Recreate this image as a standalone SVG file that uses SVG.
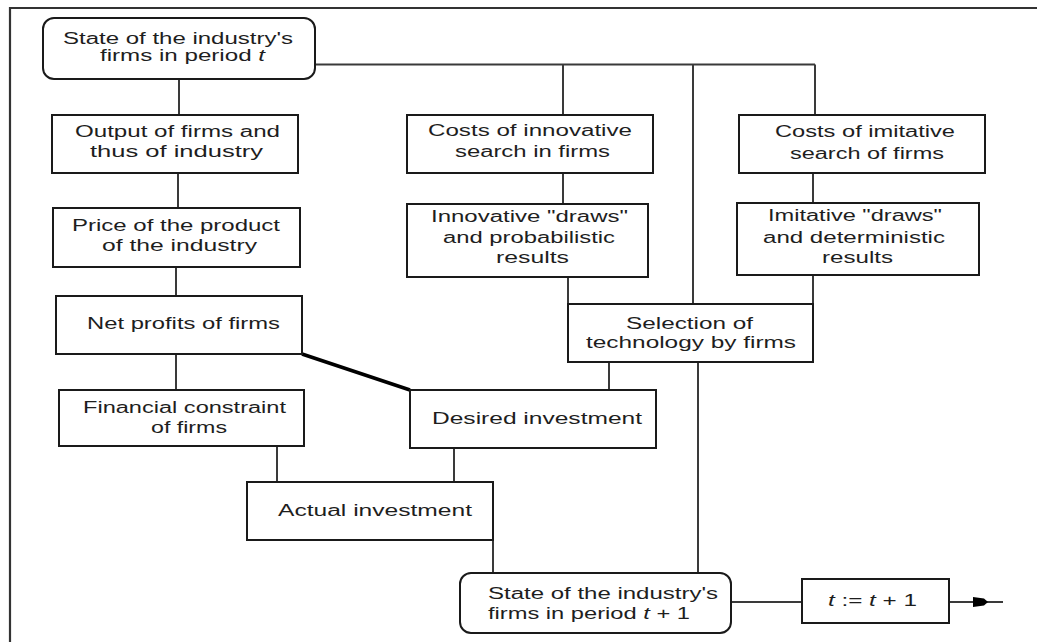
<svg xmlns="http://www.w3.org/2000/svg" width="1037" height="642" viewBox="0 0 1037 642">
<style>
.box{fill:#fff;stroke:#1a1a1a;stroke-width:2}
.c{fill:none;stroke:#3a3a3a;stroke-width:2}
.thick{fill:none;stroke:#000;stroke-width:3.5}
.frame{fill:none;stroke:#333;stroke-width:2.2}
text{font-family:"Liberation Sans",Arial,sans-serif;font-size:16px;fill:#1e1e1e}
.i{font-style:italic}
</style>
<rect width="1037" height="642" fill="#fff"/>
<path class="frame" d="M10,642 V8 H1037"/>
<g id="connectors">
<path class="c" d="M179,79 V115"/>
<path class="c" d="M178,173 V208"/>
<path class="c" d="M176,267 V296"/>
<path class="c" d="M176,354 V390"/>
<path class="thick" d="M302,354 L410,390"/>
<path class="c" d="M277,446 V482"/>
<path class="c" d="M454,448 V482"/>
<path class="c" d="M493,540 V573"/>
<path class="c" d="M315,64.5 H815"/>
<path class="c" d="M563,64.5 V115"/>
<path class="c" d="M693,64.5 V304"/>
<path class="c" d="M815,64.5 V115"/>
<path class="c" d="M563,173 V204"/>
<path class="c" d="M813,173 V203"/>
<path class="c" d="M568,277 V304"/>
<path class="c" d="M813,275 V304"/>
<path class="c" d="M609,362 V390"/>
<path class="c" d="M698,362 V573"/>
<path class="c" d="M731,602 H802"/>
<path class="c" d="M949,602 H1003"/>
<path d="M973,597 L984,598.5 L988,602 L984,605.5 L973,607 Z" fill="#000"/>
</g>
<g id="state-t">
<rect class="box" x="43" y="18" width="272" height="61" rx="11"/>
<text x="63" y="44" textLength="230" lengthAdjust="spacingAndGlyphs">State of the industry's</text>
<text x="100" y="61" textLength="165" lengthAdjust="spacingAndGlyphs">firms in period <tspan class="i">t</tspan></text>
</g>
<g id="output">
<rect class="box" x="52" y="115" width="246" height="58"/>
<text x="75" y="137" textLength="205" lengthAdjust="spacingAndGlyphs">Output of firms and</text>
<text x="90" y="157" textLength="173" lengthAdjust="spacingAndGlyphs">thus of industry</text>
</g>
<g id="price">
<rect class="box" x="53" y="208" width="247" height="59"/>
<text x="72" y="231" textLength="208" lengthAdjust="spacingAndGlyphs">Price of the product</text>
<text x="102" y="251" textLength="155" lengthAdjust="spacingAndGlyphs">of the industry</text>
</g>
<g id="net-profits">
<rect class="box" x="56" y="296" width="246" height="58"/>
<text x="87" y="329" textLength="193" lengthAdjust="spacingAndGlyphs">Net profits of firms</text>
</g>
<g id="financial">
<rect class="box" x="59" y="390" width="245" height="56"/>
<text x="83" y="413" textLength="203" lengthAdjust="spacingAndGlyphs">Financial constraint</text>
<text x="151" y="433" textLength="76" lengthAdjust="spacingAndGlyphs">of firms</text>
</g>
<g id="desired">
<rect class="box" x="410" y="390" width="246" height="58"/>
<text x="432" y="424" textLength="210" lengthAdjust="spacingAndGlyphs">Desired investment</text>
</g>
<g id="actual">
<rect class="box" x="247" y="482" width="246" height="58"/>
<text x="278" y="516" textLength="194" lengthAdjust="spacingAndGlyphs">Actual investment</text>
</g>
<g id="costs-innovative">
<rect class="box" x="407" y="115" width="246" height="58"/>
<text x="428" y="136" textLength="204" lengthAdjust="spacingAndGlyphs">Costs of innovative</text>
<text x="455" y="157" textLength="155" lengthAdjust="spacingAndGlyphs">search in firms</text>
</g>
<g id="innovative-draws">
<rect class="box" x="407" y="204" width="241" height="73"/>
<text x="431" y="222" textLength="197" lengthAdjust="spacingAndGlyphs">Innovative "draws"</text>
<text x="443" y="243" textLength="172" lengthAdjust="spacingAndGlyphs">and probabilistic</text>
<text x="496" y="263" textLength="73" lengthAdjust="spacingAndGlyphs">results</text>
</g>
<g id="costs-imitative">
<rect class="box" x="739" y="115" width="246" height="58"/>
<text x="775" y="137" textLength="180" lengthAdjust="spacingAndGlyphs">Costs of imitative</text>
<text x="790" y="159" textLength="154" lengthAdjust="spacingAndGlyphs">search of firms</text>
</g>
<g id="imitative-draws">
<rect class="box" x="737" y="203" width="242" height="72"/>
<text x="768" y="221" textLength="174" lengthAdjust="spacingAndGlyphs">Imitative "draws"</text>
<text x="763" y="243" textLength="182" lengthAdjust="spacingAndGlyphs">and deterministic</text>
<text x="822" y="263" textLength="71" lengthAdjust="spacingAndGlyphs">results</text>
</g>
<g id="selection">
<rect class="box" x="568" y="304" width="245" height="58"/>
<text x="626" y="329" textLength="127" lengthAdjust="spacingAndGlyphs">Selection of</text>
<text x="586" y="348" textLength="210" lengthAdjust="spacingAndGlyphs">technology by firms</text>
</g>
<g id="state-t1">
<rect class="box" x="460" y="573" width="271" height="60" rx="11"/>
<text x="488" y="599" textLength="230" lengthAdjust="spacingAndGlyphs">State of the industry's</text>
<text x="488" y="619" textLength="202" lengthAdjust="spacingAndGlyphs">firms in period <tspan class="i">t</tspan> + 1</text>
</g>
<g id="increment">
<rect class="box" x="802" y="579" width="147" height="44"/>
<text x="828" y="606" textLength="89" lengthAdjust="spacingAndGlyphs"><tspan class="i">t</tspan> := <tspan class="i">t</tspan> + 1</text>
</g>
</svg>
